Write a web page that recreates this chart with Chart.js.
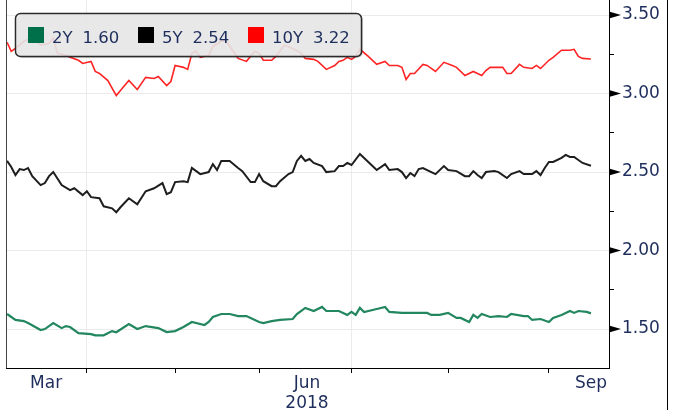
<!DOCTYPE html>
<html>
<head>
<meta charset="utf-8">
<script src="https://cdn.jsdelivr.net/npm/chart.js@4.4.0/dist/chart.umd.min.js"></script>
<style>
  html, body { margin: 0; padding: 0; background: #fff; }
  #wrap { position: relative; width: 675px; height: 410px; }
</style>
</head>
<body>
<div id="wrap"><canvas id="myChart" width="675" height="410"></canvas></div>
<script>
// trading-day index (0 = first observation, early March 2018)
const obs2y = [0,2,4,5,8,9,11,13,14,15,17,20,21,23,25,26,29,31,33,36,38,40,42,44,47,48,49,51,53,55,57,60,61,63,65,68,69,71,73,75,76,79,80,81,82,83,84,85,88,90,91,94,95,97,100,101,103,105,107,108,110,111,112,113,115,117,119,120,123,124,125,127,129,130,132,134,135,136,138,139];
const yld2y = [1.596,1.558,1.551,1.538,1.494,1.500,1.538,1.506,1.519,1.513,1.474,1.468,1.460,1.460,1.487,1.480,1.532,1.500,1.519,1.506,1.481,1.487,1.513,1.545,1.526,1.545,1.577,1.596,1.596,1.583,1.583,1.545,1.538,1.551,1.558,1.564,1.596,1.635,1.615,1.641,1.615,1.615,1.603,1.590,1.609,1.590,1.635,1.609,1.628,1.641,1.609,1.603,1.603,1.603,1.603,1.590,1.590,1.603,1.571,1.571,1.545,1.590,1.571,1.596,1.577,1.583,1.577,1.596,1.583,1.583,1.558,1.564,1.545,1.571,1.590,1.615,1.603,1.615,1.609,1.600];

const obs5y = [0,1,2,3,4,5,6,8,9,10,11,13,15,16,18,19,20,22,23,25,26,27,29,31,33,35,37,38,39,40,42,43,44,46,48,49,50,51,53,55,56,58,59,60,61,63,64,65,67,68,69,70,71,72,73,75,76,78,79,80,81,82,84,86,88,90,91,93,94,95,96,97,98,99,101,102,104,105,107,109,110,111,112,113,114,116,117,119,120,122,123,125,126,127,128,129,130,132,133,134,135,137,139];
const yld5y = [2.571,2.532,2.481,2.519,2.513,2.526,2.474,2.417,2.430,2.474,2.500,2.417,2.385,2.397,2.353,2.378,2.340,2.333,2.282,2.269,2.244,2.276,2.333,2.295,2.378,2.397,2.430,2.359,2.372,2.436,2.442,2.436,2.526,2.487,2.500,2.551,2.513,2.571,2.571,2.526,2.506,2.436,2.436,2.487,2.442,2.410,2.410,2.442,2.487,2.500,2.571,2.603,2.571,2.583,2.558,2.538,2.500,2.506,2.538,2.538,2.558,2.545,2.615,2.564,2.513,2.551,2.513,2.519,2.500,2.462,2.494,2.474,2.519,2.526,2.500,2.487,2.538,2.513,2.506,2.474,2.474,2.506,2.481,2.462,2.500,2.506,2.500,2.462,2.487,2.506,2.487,2.487,2.506,2.481,2.526,2.564,2.564,2.590,2.609,2.596,2.596,2.558,2.540];

const obs10y = [0,1,2,4,6,8,10,11,12,14,15,17,18,20,21,22,24,26,27,29,31,33,35,36,38,39,40,42,43,44,45,46,48,49,51,52,54,55,57,59,60,61,63,64,66,68,70,71,73,74,76,78,79,80,81,82,83,84,86,88,90,91,93,94,95,96,97,99,100,102,104,106,107,109,111,112,113,114,115,118,119,120,122,123,125,126,127,129,130,132,134,135,136,137,139];
const yld10y = [3.327,3.269,3.288,3.333,3.353,3.308,3.320,3.353,3.256,3.244,3.231,3.212,3.192,3.205,3.141,3.128,3.083,2.987,3.019,3.083,3.026,3.103,3.096,3.109,3.051,3.077,3.179,3.167,3.154,3.256,3.269,3.231,3.244,3.301,3.333,3.340,3.263,3.224,3.205,3.269,3.256,3.212,3.212,3.237,3.308,3.288,3.256,3.224,3.218,3.205,3.154,3.179,3.205,3.212,3.231,3.218,3.237,3.282,3.237,3.186,3.205,3.179,3.179,3.167,3.090,3.128,3.128,3.186,3.179,3.141,3.199,3.179,3.167,3.115,3.141,3.128,3.115,3.147,3.167,3.167,3.128,3.128,3.186,3.167,3.160,3.179,3.160,3.212,3.231,3.276,3.276,3.282,3.237,3.224,3.220];

// x axis: month boundaries and month labels (in trading-day index)
const monthStarts = [19, 40, 60, 82, 105, 129];   // Apr, May, Jun, Jul, Aug, Sep
const quarterStarts = [19, 82];
const monthLabels = ['Mar', 'Jun', 'Sep'];
const monthLabelObs = [9.3, 71.4, 139];
const yearLabel = '2018';

// y axis ticks
const yMajor = [1.5, 2.0, 2.5, 3.0, 3.5];
const yMinor = [1.75, 2.25, 2.75, 3.25];

const navy = '#1d2d5c';
const font = '"DejaVu Sans", "Liberation Sans", sans-serif';

function toPoints(xs, ys) {
  return xs.map((x, i) => ({x: x, y: ys[i]}));
}

const frame = {
  id: 'frame',
  afterDraw(chart) {
    const ctx = chart.ctx, a = chart.chartArea;
    ctx.save();
    ctx.strokeStyle = '#444';
    ctx.lineWidth = 1;
    ctx.beginPath();
    ctx.moveTo(a.left + 0.5, 0);
    ctx.lineTo(a.left + 0.5, a.bottom);
    ctx.stroke();
    ctx.strokeStyle = '#000';
    ctx.beginPath();
    ctx.moveTo(667.5, 0);
    ctx.lineTo(667.5, chart.height);
    ctx.stroke();
    // arrow markers on major y ticks
    const ys = chart.scales.y;
    ctx.fillStyle = '#000';
    yMajor.forEach(v => {
      const y = ys.getPixelForValue(v);
      ctx.beginPath();
      ctx.moveTo(ys.left, y - 3.5);
      ctx.lineTo(ys.left + 12, y);
      ctx.lineTo(ys.left, y + 3.5);
      ctx.closePath();
      ctx.fill();
    });
    ctx.restore();
  }
};

const legendBox = {
  id: 'legendBox',
  afterDatasetsDraw(chart) {
    const ctx = chart.ctx;
    ctx.save();
    ctx.beginPath();
    ctx.roundRect(15.5, 13.5, 346, 43, 5);
    ctx.shadowColor = 'rgba(0,0,0,0.4)';
    ctx.shadowOffsetX = 1;
    ctx.shadowOffsetY = 1;
    ctx.shadowBlur = 1;
    ctx.fillStyle = 'rgba(243,243,243,0.85)';
    ctx.fill();
    ctx.shadowColor = 'rgba(0,0,0,0)';
    ctx.lineWidth = 1.5;
    ctx.strokeStyle = '#2a2a2a';
    ctx.stroke();
    ctx.font = '16.5px ' + font;
    ctx.textBaseline = 'alphabetic';
    chart.data.datasets.forEach((ds, i) => {
      const x = 28 + i * 110;
      ctx.fillStyle = ds.keyColor;
      ctx.fillRect(x, 27, 16, 16);
      ctx.fillStyle = navy;
      ctx.fillText(ds.label, x + 24, 43);
      const w = ctx.measureText(ds.label).width;
      const last = ds.data[ds.data.length - 1].y;
      ctx.fillText(last.toFixed(2), x + 24 + w + 10, 43);
    });
    ctx.restore();
  }
};

function isIn(list, v) {
  return list.some(t => Math.abs(t - v) < 1e-6);
}

var ctx = document.getElementById('myChart').getContext('2d');
var chart = new Chart(ctx, {
  type: 'line',
  data: {
    datasets: [
      {label: '2Y', data: toPoints(obs2y, yld2y), borderColor: '#22875f', keyColor: '#00704a', borderWidth: 2.2},
      {label: '5Y', data: toPoints(obs5y, yld5y), borderColor: '#1e1e1e', keyColor: '#000000', borderWidth: 2},
      {label: '10Y', data: toPoints(obs10y, yld10y), borderColor: '#ff2424', keyColor: '#ff0000', borderWidth: 1.6}
    ]
  },
  options: {
    responsive: false,
    animation: false,
    devicePixelRatio: 1,
    layout: {padding: {left: 6, top: 0, right: 0, bottom: 0}},
    elements: {point: {radius: 0}, line: {tension: 0}},
    plugins: {legend: {display: false}, tooltip: {enabled: false}},
    scales: {
      x: {
        type: 'linear',
        min: -0.25,
        max: 143.3,
        afterBuildTicks(scale) {
          scale.ticks = monthStarts.concat(monthLabelObs).sort((a, b) => a - b).map(v => ({value: v}));
        },
        afterFit(scale) {
          scale.height = 42;
          scale.paddingLeft = 0;
          scale.paddingRight = 0;
        },
        grid: {
          color: c => (c.tick && isIn(quarterStarts, c.tick.value)) ? '#ebebeb' : 'rgba(0,0,0,0)',
          tickColor: c => (c.tick && isIn(monthStarts, c.tick.value)) ? '#000' : 'rgba(0,0,0,0)',
          tickLength: 5
        },
        border: {color: '#000', width: 1},
        ticks: {
          autoSkip: false,
          maxRotation: 0,
          padding: 0,
          color: navy,
          font: {family: font, size: 17},
          callback(v) {
            const i = monthLabelObs.findIndex(t => Math.abs(t - v) < 1e-6);
            if (i < 0) return '';
            return monthLabels[i] === 'Jun' ? [monthLabels[i], yearLabel] : monthLabels[i];
          }
        }
      },
      y: {
        type: 'linear',
        position: 'right',
        min: 1.252,
        max: 3.596,
        afterBuildTicks(scale) {
          scale.ticks = yMajor.concat(yMinor).sort((a, b) => a - b).map(v => ({value: v}));
        },
        afterFit(scale) {
          scale.width = 66;
          scale.paddingTop = 0;
          scale.paddingBottom = 0;
        },
        grid: {
          color: c => (c.tick && isIn(yMajor, c.tick.value)) ? '#ebebeb' : 'rgba(0,0,0,0)',
          tickColor: c => (c.tick && isIn(yMinor, c.tick.value)) ? '#000' : 'rgba(0,0,0,0)',
          tickLength: 5
        },
        border: {color: '#000', width: 1},
        ticks: {
          autoSkip: false,
          padding: 8,
          color: navy,
          font: {family: font, size: 17},
          callback: v => isIn(yMajor, v) ? v.toFixed(2) : ''
        }
      }
    }
  },
  plugins: [legendBox, frame]
});
</script>
</body>
</html>
